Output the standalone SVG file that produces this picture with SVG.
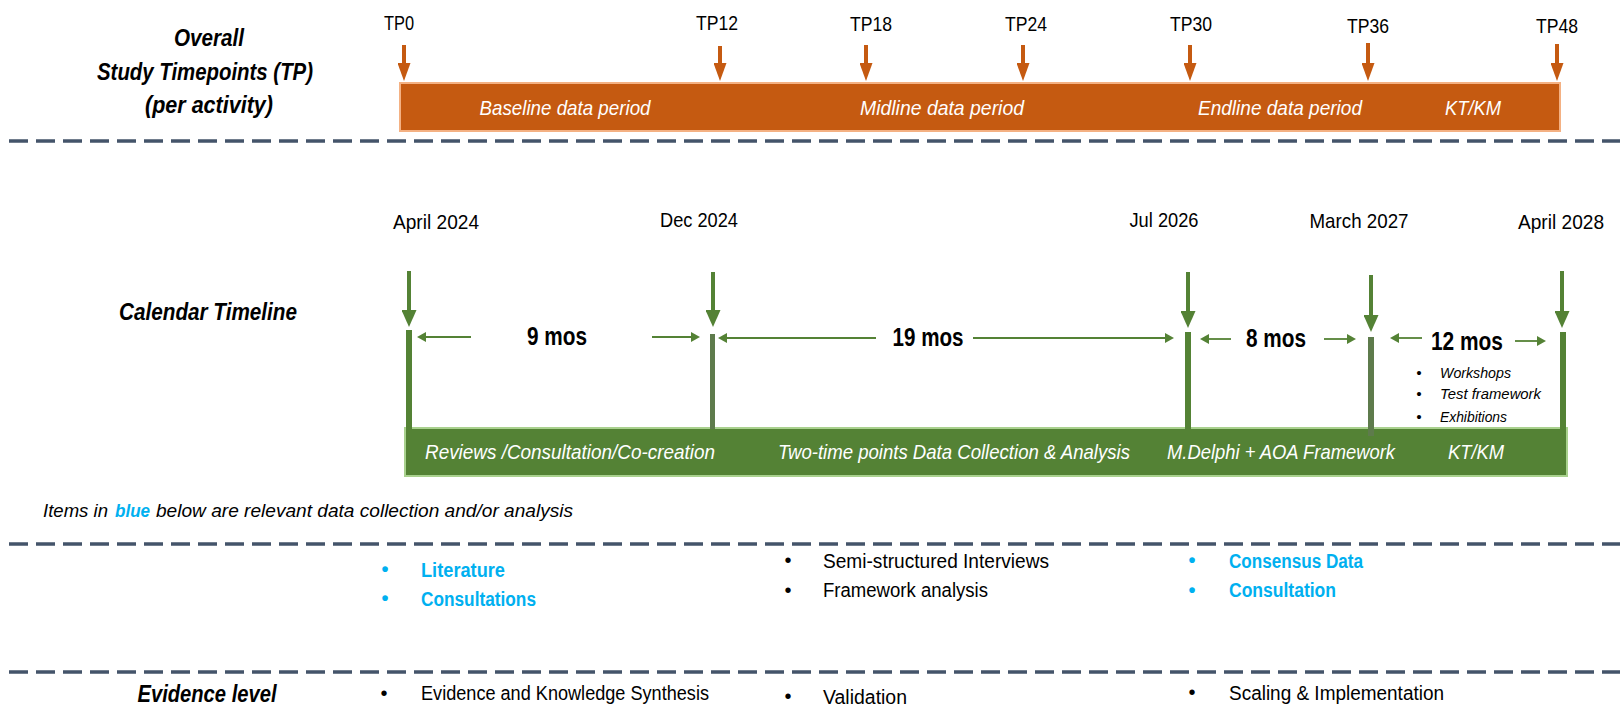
<svg xmlns="http://www.w3.org/2000/svg" width="1620" height="707" viewBox="0 0 1620 707">
<defs>
<style>
text{font-family:"Liberation Sans",Arial,Helvetica,sans-serif;}
.hd{font-weight:bold;font-style:italic;font-size:23px;fill:#000;text-anchor:middle}
.tp{font-size:21px;fill:#000;text-anchor:middle}
.bar{font-style:italic;font-size:21px;fill:#fff;text-anchor:middle}
.dur{font-weight:bold;font-size:25px;fill:#000;text-anchor:middle}
.sm{font-style:italic;font-size:15px;fill:#000}
.bu{text-anchor:middle}
.bl{font-size:20px;fill:#000}
.blue{font-weight:bold;font-size:20px;fill:#00B0F0}
.note{font-style:italic;font-size:19px;fill:#000}
.dash{stroke:#44546A;stroke-width:3.5;stroke-dasharray:19 8;fill:none}
.oarr{stroke:#C55A11;stroke-width:4;fill:none;marker-end:url(#ohead)}
.garr{stroke:#548235;stroke-width:4;fill:none;marker-end:url(#ghead)}
.harr{stroke:#548235;stroke-width:1.8;fill:none;marker-end:url(#shead)}
.post{fill:#548235}
.post2{fill:#5E7B4C}
</style>
<marker id="ohead" markerUnits="userSpaceOnUse" viewBox="0 0 18 13" refX="0" refY="6.5" markerWidth="18" markerHeight="13" orient="auto"><path d="M0,0L18,6.5L0,13z" fill="#C55A11"/></marker>
<marker id="ghead" markerUnits="userSpaceOnUse" viewBox="0 0 17 15" refX="0" refY="7.5" markerWidth="17" markerHeight="15" orient="auto"><path d="M0,0L17,7.5L0,15z" fill="#548235"/></marker>
<marker id="shead" markerUnits="userSpaceOnUse" viewBox="0 0 9 10" refX="0" refY="5" markerWidth="9" markerHeight="10" orient="auto"><path d="M0,0L9,5L0,10z" fill="#548235"/></marker>
</defs>
<rect width="1620" height="707" fill="#fff"/>

<!-- separators -->
<g id="separators">
<line class="dash" x1="9" y1="141" x2="1620" y2="141"/>
<line class="dash" x1="9" y1="544" x2="1620" y2="544"/>
<line class="dash" x1="9" y1="672" x2="1620" y2="672"/>
</g>

<!-- row headers -->
<g id="header-tp">
<text class="hd" x="209" y="46" textLength="70" lengthAdjust="spacingAndGlyphs">Overall</text>
<text class="hd" x="205" y="80" textLength="216" lengthAdjust="spacingAndGlyphs">Study Timepoints (TP)</text>
<text class="hd" x="209" y="113" textLength="128" lengthAdjust="spacingAndGlyphs">(per activity)</text>
</g>
<g id="header-calendar">
<text class="hd" x="208" y="320" textLength="178" lengthAdjust="spacingAndGlyphs">Calendar Timeline</text>
</g>
<g id="header-evidence">
<text class="hd" x="207" y="702" textLength="139" lengthAdjust="spacingAndGlyphs">Evidence level</text>
</g>

<!-- study timepoint bar -->
<g id="tp-bar">
<rect x="400" y="83" width="1160" height="48" fill="#C55A11" stroke="#F4B183" stroke-width="2"/>
<text class="bar" x="565" y="115" textLength="171" lengthAdjust="spacingAndGlyphs">Baseline data period</text>
<text class="bar" x="942" y="115" textLength="164" lengthAdjust="spacingAndGlyphs">Midline data period</text>
<text class="bar" x="1280" y="115" textLength="164" lengthAdjust="spacingAndGlyphs">Endline data period</text>
<text class="bar" x="1473" y="115" textLength="56" lengthAdjust="spacingAndGlyphs">KT/KM</text>
</g>

<g id="tp-labels">
<g id="tp0"><text class="tp" x="399" y="30" textLength="30" lengthAdjust="spacingAndGlyphs">TP0</text></g>
<g id="tp12"><text class="tp" x="717" y="30" textLength="42" lengthAdjust="spacingAndGlyphs">TP12</text></g>
<g id="tp18"><text class="tp" x="871" y="31" textLength="42" lengthAdjust="spacingAndGlyphs">TP18</text></g>
<g id="tp24"><text class="tp" x="1026" y="31" textLength="42" lengthAdjust="spacingAndGlyphs">TP24</text></g>
<g id="tp30"><text class="tp" x="1191" y="31" textLength="42" lengthAdjust="spacingAndGlyphs">TP30</text></g>
<g id="tp36"><text class="tp" x="1368" y="33" textLength="42" lengthAdjust="spacingAndGlyphs">TP36</text></g>
<g id="tp48"><text class="tp" x="1557" y="33" textLength="42" lengthAdjust="spacingAndGlyphs">TP48</text></g>
</g>

<!-- calendar bar -->
<g id="calendar-bar">
<rect x="405" y="428" width="1162" height="48" fill="#548235" stroke="#A9D18E" stroke-width="2"/>
<text class="bar" x="570" y="459" textLength="290" lengthAdjust="spacingAndGlyphs">Reviews /Consultation/Co-creation</text>
<text class="bar" x="954" y="459" textLength="352" lengthAdjust="spacingAndGlyphs">Two-time points Data Collection &amp; Analysis</text>
<text class="bar" x="1281" y="459" textLength="228" lengthAdjust="spacingAndGlyphs">M.Delphi + AOA Framework</text>
<text class="bar" x="1476" y="459" textLength="56" lengthAdjust="spacingAndGlyphs">KT/KM</text>
</g>

<!-- calendar milestones -->
<g id="m-apr2024">
<text class="tp" x="436" y="229" textLength="86" lengthAdjust="spacingAndGlyphs">April 2024</text>
<rect class="post" x="406" y="330" width="6" height="99"/>
</g>
<g id="m-dec2024">
<text class="tp" x="699" y="227" textLength="78" lengthAdjust="spacingAndGlyphs">Dec 2024</text>
<rect class="post2" x="710" y="334" width="5" height="95"/>
</g>
<g id="m-jul2026">
<text class="tp" x="1164" y="227" textLength="69" lengthAdjust="spacingAndGlyphs">Jul 2026</text>
<rect class="post" x="1185" y="332" width="6" height="97"/>
</g>
<g id="m-mar2027">
<text class="tp" x="1359" y="228" textLength="99" lengthAdjust="spacingAndGlyphs">March 2027</text>
<rect class="post2" x="1368" y="337" width="6" height="99"/>
</g>
<g id="m-apr2028">
<text class="tp" x="1561" y="229" textLength="86" lengthAdjust="spacingAndGlyphs">April 2028</text>
<rect class="post" x="1560" y="332" width="6" height="97"/>
</g>

<!-- durations -->
<g id="d-9"><text class="dur" x="557" y="345" textLength="60" lengthAdjust="spacingAndGlyphs">9 mos</text></g>
<g id="d-19"><text class="dur" x="928" y="346" textLength="71" lengthAdjust="spacingAndGlyphs">19 mos</text></g>
<g id="d-8"><text class="dur" x="1276" y="347" textLength="60" lengthAdjust="spacingAndGlyphs">8 mos</text></g>
<g id="d-12">
<text class="dur" x="1467" y="350" textLength="72" lengthAdjust="spacingAndGlyphs">12 mos</text>
<text class="sm bu" x="1419" y="378">•</text>
<text class="sm bu" x="1419" y="399">•</text>
<text class="sm bu" x="1419" y="422">•</text>
<text class="sm" x="1440" y="378" textLength="71" lengthAdjust="spacingAndGlyphs">Workshops</text>
<text class="sm" x="1440" y="399" textLength="101" lengthAdjust="spacingAndGlyphs">Test framework</text>
<text class="sm" x="1440" y="422" textLength="67" lengthAdjust="spacingAndGlyphs">Exhibitions</text>
</g>

<!-- note -->
<g id="note">
<text class="note" x="43" y="517" textLength="65" lengthAdjust="spacingAndGlyphs">Items in</text>
<text class="note" x="115" y="517" textLength="35" lengthAdjust="spacingAndGlyphs" style="font-weight:bold;fill:#00B0F0">blue</text>
<text class="note" x="156" y="517" textLength="417" lengthAdjust="spacingAndGlyphs">below are relevant data collection and/or analysis</text>
</g>

<!-- data collection -->
<g id="data-col1">
<text class="blue bu" x="385" y="576">•</text>
<text class="blue bu" x="385" y="605">•</text>
<text class="blue" x="421" y="577" textLength="84" lengthAdjust="spacingAndGlyphs">Literature</text>
<text class="blue" x="421" y="606" textLength="115" lengthAdjust="spacingAndGlyphs">Consultations</text>
</g>
<g id="data-col2">
<text class="bl bu" x="788" y="567">•</text>
<text class="bl bu" x="788" y="597">•</text>
<text class="bl" x="823" y="568" textLength="226" lengthAdjust="spacingAndGlyphs">Semi-structured Interviews</text>
<text class="bl" x="823" y="597" textLength="165" lengthAdjust="spacingAndGlyphs">Framework analysis</text>
</g>
<g id="data-col3">
<text class="blue bu" x="1192" y="567">•</text>
<text class="blue bu" x="1192" y="597">•</text>
<text class="blue" x="1229" y="568" textLength="134" lengthAdjust="spacingAndGlyphs">Consensus Data</text>
<text class="blue" x="1229" y="597" textLength="107" lengthAdjust="spacingAndGlyphs">Consultation</text>
</g>

<!-- evidence -->
<g id="ev-col1">
<text class="bl bu" x="384" y="700">•</text>
<text class="bl" x="421" y="700" textLength="288" lengthAdjust="spacingAndGlyphs">Evidence and Knowledge Synthesis</text>
</g>
<g id="ev-col2">
<text class="bl bu" x="788" y="703">•</text>
<text class="bl" x="823" y="704" textLength="84" lengthAdjust="spacingAndGlyphs">Validation</text>
</g>
<g id="ev-col3">
<text class="bl bu" x="1192" y="699">•</text>
<text class="bl" x="1229" y="700" textLength="215" lengthAdjust="spacingAndGlyphs">Scaling &amp; Implementation</text>
</g>

<!-- connectors -->
<g id="connectors">
<line class="oarr" x1="404" y1="45" x2="404" y2="63"/>
<line class="oarr" x1="720" y1="46" x2="720" y2="63"/>
<line class="oarr" x1="866" y1="45" x2="866" y2="63"/>
<line class="oarr" x1="1023" y1="45" x2="1023" y2="63"/>
<line class="oarr" x1="1190" y1="45" x2="1190" y2="63"/>
<line class="oarr" x1="1368" y1="43" x2="1368" y2="63"/>
<line class="oarr" x1="1557" y1="44" x2="1557" y2="63"/>

<line class="garr" x1="409" y1="271" x2="409" y2="310"/>
<line class="garr" x1="713" y1="272" x2="713" y2="310"/>
<line class="garr" x1="1188" y1="272" x2="1188" y2="311"/>
<line class="garr" x1="1371" y1="275" x2="1371" y2="315"/>
<line class="garr" x1="1562" y1="271" x2="1562" y2="311"/>

<line class="harr" x1="471" y1="337" x2="426" y2="337"/>
<line class="harr" x1="652" y1="337" x2="691" y2="337"/>
<line class="harr" x1="876" y1="338" x2="727" y2="338"/>
<line class="harr" x1="973" y1="338" x2="1165" y2="338"/>
<line class="harr" x1="1231" y1="339" x2="1209" y2="339"/>
<line class="harr" x1="1324" y1="339" x2="1347" y2="339"/>
<line class="harr" x1="1422" y1="338" x2="1399" y2="338"/>
<line class="harr" x1="1515" y1="341" x2="1537" y2="341"/>
</g>
</svg>
